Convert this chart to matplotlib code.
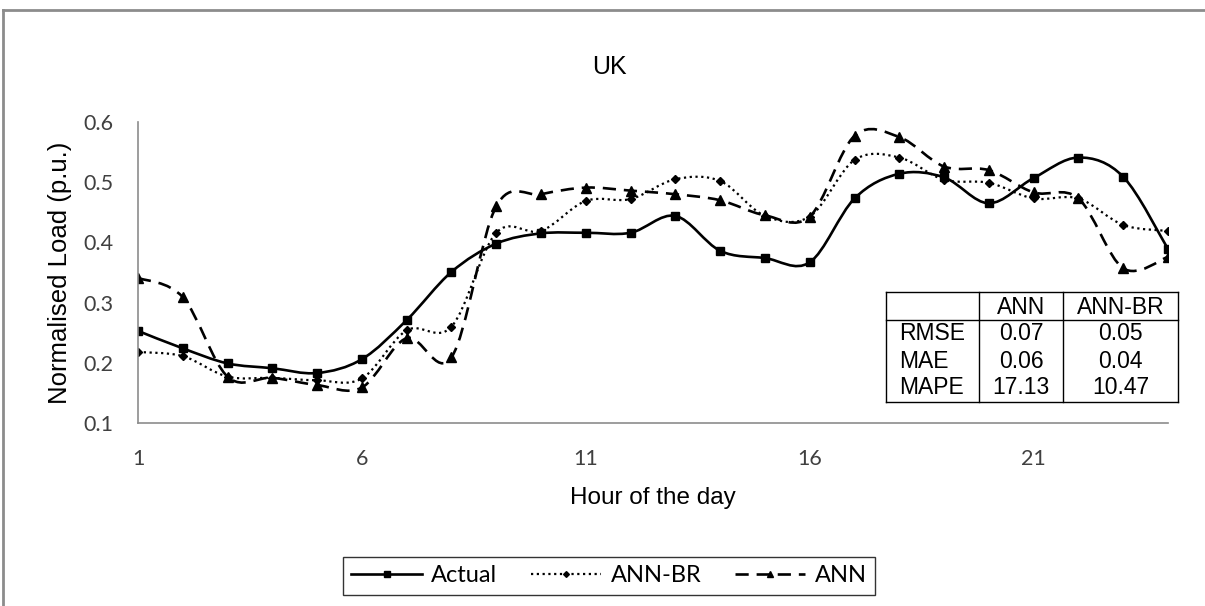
import numpy as np
import matplotlib.pyplot as plt
from matplotlib.path import Path
from matplotlib.patches import PathPatch
from matplotlib.lines import Line2D

# hourly normalised load, UK
hours = np.arange(1, 25)
actual = [0.253, 0.224, 0.199, 0.191, 0.183, 0.206, 0.271, 0.351, 0.398, 0.415, 0.416, 0.416,
          0.444, 0.386, 0.374, 0.367, 0.473, 0.514, 0.508, 0.465, 0.507, 0.541, 0.509, 0.389]
ann_br = [0.218, 0.211, 0.177, 0.175, 0.171, 0.174, 0.254, 0.260, 0.416, 0.419, 0.469, 0.472,
          0.505, 0.502, 0.444, 0.443, 0.537, 0.541, 0.504, 0.499, 0.473, 0.473, 0.429, 0.419]
ann = [0.341, 0.309, 0.177, 0.175, 0.163, 0.159, 0.241, 0.209, 0.460, 0.480, 0.491, 0.486,
       0.480, 0.470, 0.445, 0.443, 0.577, 0.575, 0.526, 0.520, 0.483, 0.473, 0.357, 0.376]

# error table
err_cols = ['ANN', 'ANN-BR']
err_rows = ['RMSE', 'MAE', 'MAPE']
err_ann = ['0.07', '0.06', '17.13']
err_annbr = ['0.05', '0.04', '10.47']

W, H = 1205, 606
fig = plt.figure(figsize=(W / 100, H / 100), dpi=100)
ax = fig.add_axes([138 / W, 1 - 423 / H, (1168 - 138) / W, (423 - 122) / H])

tick_font = ['Lato', 'DejaVu Sans']
text_font = ['Liberation Sans', 'DejaVu Sans']


def smooth_path(x, y):
    # excel-like smoothed line: cubic bezier through every point
    pts = np.column_stack([x, y]).astype(float)
    n = len(pts)
    verts = [pts[0]]
    codes = [Path.MOVETO]
    for i in range(n - 1):
        p0 = pts[i - 1] if i > 0 else pts[i]
        p1 = pts[i]
        p2 = pts[i + 1]
        p3 = pts[i + 2] if i + 2 < n else pts[i + 1]
        verts += [p1 + (p2 - p0) / 6, p2 - (p3 - p1) / 6, p2]
        codes += [Path.CURVE4] * 3
    return Path(verts, codes)


styles = [
    ('Actual', actual, dict(linestyle='-', linewidth=1.9), dict(marker='s', markersize=6)),
    ('ANN-BR', ann_br, dict(linestyle=(0, (1, 1.6)), linewidth=1.6), dict(marker='D', markersize=4.2)),
    ('ANN', ann, dict(linestyle=(0, (5, 3)), linewidth=1.9), dict(marker='^', markersize=6.5)),
]

handles = []
for name, vals, ls, mk in styles:
    ax.add_patch(PathPatch(smooth_path(hours, vals), facecolor='none', edgecolor='black',
                           capstyle='butt', **ls))
    ax.plot(hours, vals, linestyle='none', color='black', **mk)
    handles.append(Line2D([], [], color='black', markersize=mk['markersize'] * 0.7,
                          marker=mk['marker'], **ls))

ax.set_xlim(1, 24)
ax.set_ylim(0.1, 0.6)
ax.set_xticks([1, 6, 11, 16, 21])
ax.set_yticks([0.1, 0.2, 0.3, 0.4, 0.5, 0.6])
ax.set_yticklabels(['0.1', '0.2', '0.3', '0.4', '0.5', '0.6'])
ax.tick_params(axis='both', length=0, labelsize=15.5, labelcolor='#404040')
ax.tick_params(axis='y', pad=18)
ax.tick_params(axis='x', pad=19)
for lab in ax.get_xticklabels() + ax.get_yticklabels():
    lab.set_family(tick_font)
for s in ['top', 'right']:
    ax.spines[s].set_visible(False)
for s in ['left', 'bottom']:
    ax.spines[s].set_color('#8c8c8c')
    ax.spines[s].set_linewidth(1.2)

ax.set_xlabel('Hour of the day', fontsize=17.5, family=text_font, va='center')
ax.xaxis.set_label_coords(0.5, (423 - 498) / 301)
ax.set_ylabel('Normalised Load (p.u.)', fontsize=18.5, family=text_font, va='center')
ax.yaxis.set_label_coords((60 - 138) / 1030, 0.5)
fig.text(609 / W, 1 - 67 / H, 'UK', ha='center', va='center', fontsize=18, family=text_font)

# outer chart frame (top and left visible)
fig.add_artist(Line2D([3 / W, 3 / W], [0, 1 - 10 / H], color='#8c8c8c', linewidth=2))
fig.add_artist(Line2D([3 / W, 1], [1 - 10 / H, 1 - 10 / H], color='#8c8c8c', linewidth=2))

# error table
tx0, tx1, tx2, tx3 = 886, 979, 1063, 1178
ty0, ty1, ty2 = 292, 320, 402


def fx(px):
    return px / W


def fy(py):
    return 1 - py / H


for x in [tx0, tx1, tx2, tx3]:
    fig.add_artist(Line2D([fx(x), fx(x)], [fy(ty0), fy(ty2)], color='black', linewidth=1))
for y in [ty0, ty1, ty2]:
    fig.add_artist(Line2D([fx(tx0), fx(tx3)], [fy(y), fy(y)], color='black', linewidth=1))
fs = 16.5
fig.text(fx((tx1 + tx2) / 2), fy(307), err_cols[0], ha='center', va='center', fontsize=fs, family=text_font)
fig.text(fx((tx2 + tx3) / 2), fy(307), err_cols[1], ha='center', va='center', fontsize=fs, family=text_font)
for i, row in enumerate(err_rows):
    y = fy(334 + i * 27)
    fig.text(fx(899), y, row, ha='left', va='center', fontsize=fs, family=text_font)
    fig.text(fx((tx1 + tx2) / 2), y, err_ann[i], ha='center', va='center', fontsize=fs, family=text_font)
    fig.text(fx((tx2 + tx3) / 2), y, err_annbr[i], ha='center', va='center', fontsize=fs, family=text_font)

leg = fig.legend(handles, [s[0] for s in styles], loc='center', ncol=3,
                 bbox_to_anchor=(609 / W, 1 - 576 / H), frameon=True, fancybox=False,
                 prop={'family': tick_font, 'size': 17}, handlelength=3.0, columnspacing=1.4,
                 handletextpad=0.4, borderpad=0.35, borderaxespad=0, numpoints=1)
leg.get_frame().set_edgecolor('black')
leg.get_frame().set_linewidth(1)

plt.savefig('out.png', dpi=100)
